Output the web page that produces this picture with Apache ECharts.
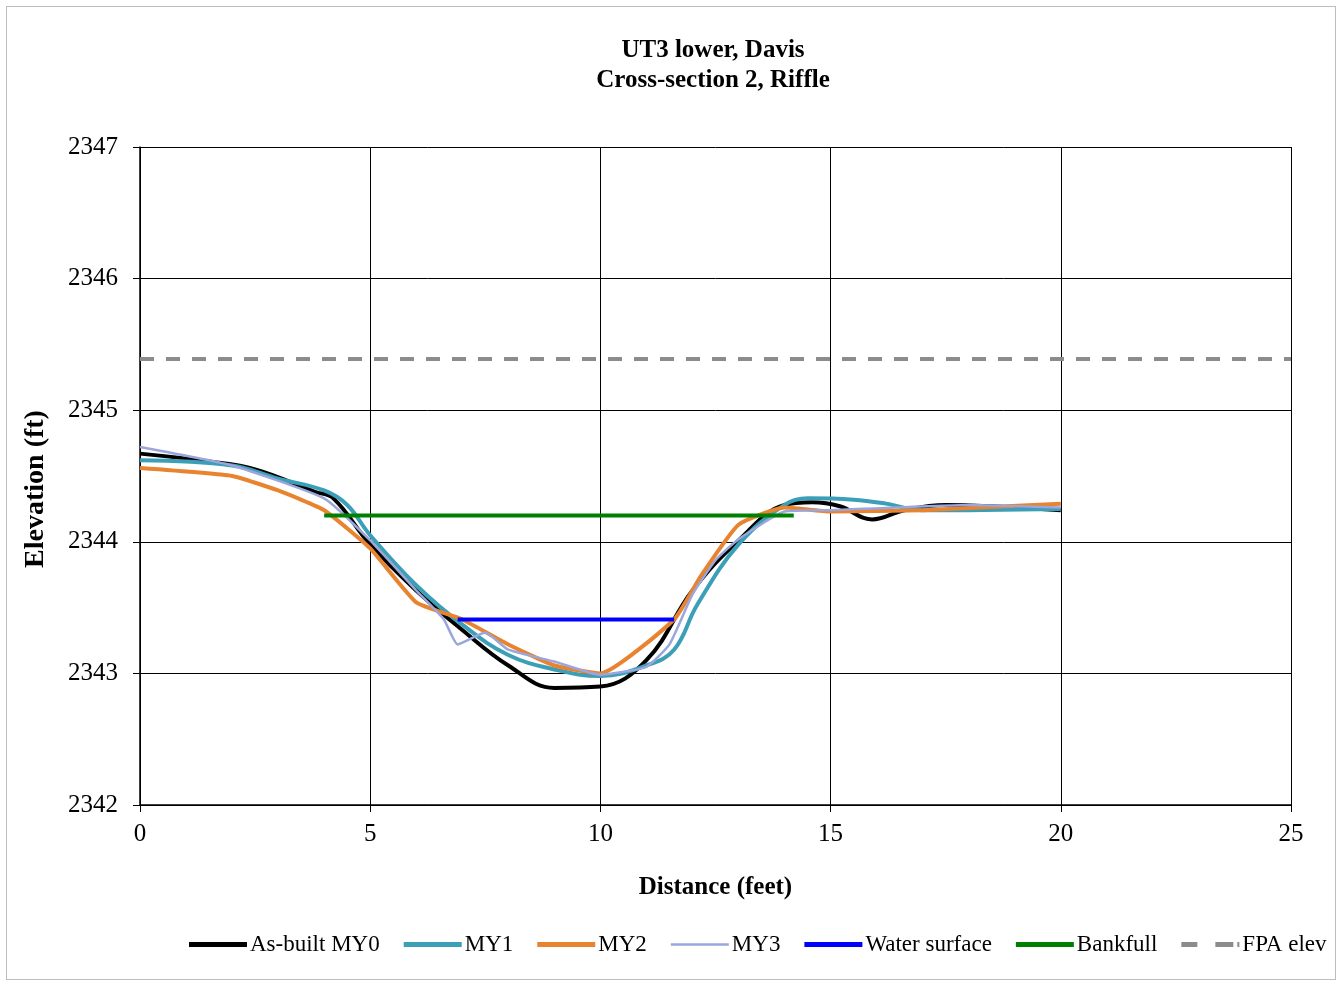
<!DOCTYPE html>
<html><head><meta charset="utf-8">
<script src="https://cdn.jsdelivr.net/npm/echarts@6/dist/echarts.min.js"></script>
<style>html,body{margin:0;padding:0;background:#fff}#frame{position:absolute;left:6px;top:6px;width:1330px;height:974px;border:1px solid #bdbdbd;box-sizing:border-box}#c{position:absolute;left:0;top:0;width:1343px;height:984px}</style>
</head><body><div id="frame"></div><div id="c"></div>
<script>
const titleLines = ["UT3 lower, Davis", "Cross-section 2, Riffle"];
const xTicks = [0, 5, 10, 15, 20, 25];
const yTicks = [2342, 2343, 2344, 2345, 2346, 2347];
const asBuiltMY0 = [[0,2344.67],[1.5,2344.61],[2.5,2344.55],[3.8,2344.38],[4.2,2344.33],[5,2343.98],[6,2343.63],[7,2343.33],[8,2343.06],[9,2342.89],[10,2342.90],[11,2343.10],[12,2343.63],[13,2344.01],[14,2344.28],[14.6,2344.30],[15.2,2344.27],[15.9,2344.17],[16.6,2344.24],[17.5,2344.28],[18.5,2344.27],[20,2344.24]];
const my1 = [[0,2344.62],[2,2344.58],[3,2344.48],[4,2344.39],[4.5,2344.28],[5,2344.05],[6,2343.67],[7,2343.37],[8,2343.14],[9,2343.03],[10,2342.98],[11,2343.06],[11.6,2343.18],[12.1,2343.52],[13,2343.98],[14,2344.28],[14.5,2344.33],[15.5,2344.32],[16.2,2344.29],[17,2344.24],[20,2344.25]];
const my2 = [[0,2344.56],[2,2344.50],[3,2344.39],[4,2344.24],[5,2343.95],[6,2343.54],[7,2343.41],[8,2343.22],[9,2343.06],[10,2343.00],[11.6,2343.41],[12.2,2343.75],[13,2344.13],[14,2344.26],[15,2344.23],[17,2344.24],[20,2344.29]];
const my3 = [[0,2344.72],[2,2344.58],[4,2344.33],[5,2344.01],[6,2343.63],[6.6,2343.41],[6.9,2343.22],[7.5,2343.31],[8,2343.18],[9,2343.09],[10,2342.99],[11,2343.05],[11.5,2343.22],[12,2343.60],[12.5,2343.86],[13,2344.02],[14,2344.23],[15,2344.24],[18,2344.28],[20,2344.26]];
const waterSurface = [[6.9,2343.41],[11.6,2343.41]];
const bankfull = [[4.0,2344.20],[14.2,2344.20]];
const fpaElev = [[0,2345.39],[25,2345.39]];

const serif = "Liberation Serif";
const chart = echarts.init(document.getElementById('c'), null, {renderer:'canvas'});
function ln(name, data, color, width, extra) {
  return Object.assign({
    name, type:'line', data, showSymbol:false, symbol:'none',
    lineStyle:{color, width}, itemStyle:{color}, z:3
  }, extra||{});
}
const solidIcon = 'path://M0,0L58,0L58,5L0,5Z';
const thinIcon = 'path://M0,0L58,0L58,2.5L0,2.5Z';
const dashIcon = 'path://M0,0L16,0L16,5L0,5Z M34,0L52,0L52,5L34,5Z M56,0L58,0L58,5L56,5Z';
chart.setOption({
  animation:false,
  title:{text:titleLines.join('\n'), left:708, textAlign:'center', top:31,
    textStyle:{fontFamily:serif, fontWeight:'bold', fontSize:25, color:'#000', lineHeight:30}},
  grid:{left:140, right:52, top:147, bottom:179, show:false},
  xAxis:{type:'value', min:0, max:25, interval:5, name:'Distance (feet)', nameLocation:'middle', nameGap:70,
    nameTextStyle:{fontFamily:serif, fontWeight:'bold', fontSize:25, color:'#000'},
    axisLine:{show:true, lineStyle:{color:'#000', width:1.5}},
    axisTick:{show:true, length:7, lineStyle:{color:'#000'}},
    axisLabel:{fontFamily:serif, fontSize:25, color:'#000', margin:17, formatter:v=>xTicks.includes(v)?String(v):''},
    splitLine:{show:true, lineStyle:{color:'#000', width:1}}},
  yAxis:{type:'value', min:2342, max:2347, interval:1, name:'Elevation (ft)', nameLocation:'middle', nameGap:90, nameRotate:90,
    nameTextStyle:{fontFamily:serif, fontWeight:'bold', fontSize:28, color:'#000', padding:[0,26,0,0]},
    axisLine:{show:true, lineStyle:{color:'#000', width:1.5}},
    axisTick:{show:true, length:7, lineStyle:{color:'#000'}},
    axisLabel:{fontFamily:serif, fontSize:25, color:'#000', margin:22, formatter:v=>yTicks.includes(v)?String(v):''},
    splitLine:{show:true, lineStyle:{color:'#000', width:1}}},
  legend:{top:928, left:184, itemWidth:58, itemHeight:10, itemGap:24,
    textStyle:{fontFamily:serif, fontSize:23, color:'#000', padding:[0,0,0,-2]},
    data:[
      {name:'As-built MY0', icon:solidIcon},
      {name:'MY1', icon:solidIcon},
      {name:'MY2', icon:solidIcon},
      {name:'MY3', icon:thinIcon},
      {name:'Water surface', icon:solidIcon},
      {name:'Bankfull', icon:solidIcon},
      {name:'FPA elev', icon:dashIcon}
    ]},
  series:[
    ln('As-built MY0', asBuiltMY0, '#000000', 4, {smooth:0.4}),
    ln('MY1', my1, '#3c9fb8', 4, {smooth:0.4}),
    ln('MY2', my2, '#e8832f', 4, {smooth:0.15}),
    ln('MY3', my3, '#9aa6dc', 2.5, {smooth:0.15}),
    ln('Water surface', waterSurface, '#0000ff', 4),
    ln('Bankfull', bankfull, '#008000', 4),
    ln('FPA elev', fpaElev, '#8c8c8c', 4, {lineStyle:{color:'#8c8c8c', width:4, type:[14,12]}})
  ]
});
</script></body></html>
